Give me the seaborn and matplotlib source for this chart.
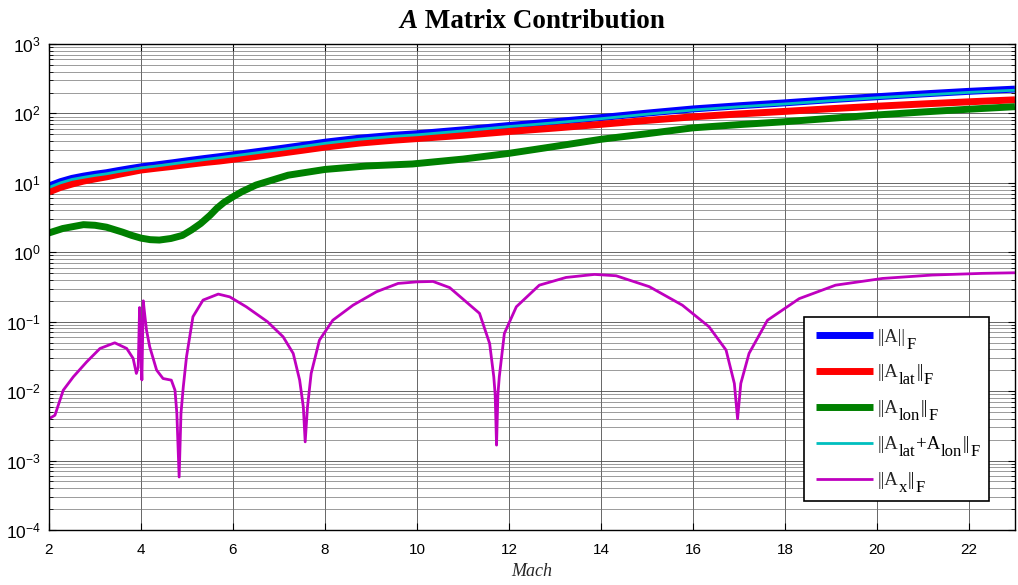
import numpy as np
import pandas as pd
import matplotlib
matplotlib.use("Agg")
import matplotlib.pyplot as plt
import seaborn as sns
from matplotlib.ticker import LogLocator, FixedLocator, NullFormatter
from matplotlib.font_manager import FontProperties

# ---------------- data ----------------
mach = [2.0, 2.25, 2.5, 2.75, 3.0, 3.25, 3.5, 3.75, 4.0, 4.35, 4.7, 5.05, 5.4, 5.7,
        6.0, 6.5, 7.0, 7.5, 8.0, 8.75, 9.5, 10.0, 11.0, 12.0, 13.0, 14.0, 15.0,
        16.0, 17.0, 18.0, 19.0, 20.0, 21.0, 22.0, 23.0]
a_total = [9.0, 10.4, 11.6, 12.5, 13.3, 14.0, 15.0, 16.0, 17.0, 18.2, 19.5, 21.0, 22.5, 23.8,
           25.3, 28.0, 31.0, 34.5, 38.5, 44.0, 48.5, 51.0, 58.0, 67.0, 76.0, 87.0, 101.0,
           116.0, 129.0, 142.0, 158.0, 174.0, 191.0, 208.0, 224.0]
a_lat = [7.4, 8.6, 9.6, 10.6, 11.4, 12.2, 13.2, 14.2, 15.3, 16.3, 17.3, 18.5, 19.7, 20.6,
         21.8, 24.0, 26.5, 29.4, 32.7, 37.4, 41.2, 43.4, 48.4, 54.9, 61.6, 69.6, 79.3,
         89.3, 98.3, 107.0, 117.0, 127.0, 137.0, 147.0, 157.0]
a_latlon = [8.6, 10.0, 11.2, 12.0, 12.8, 13.5, 14.5, 15.4, 16.4, 17.5, 18.8, 20.2, 21.7, 23.0,
            24.4, 27.0, 29.9, 33.3, 37.1, 42.4, 46.8, 49.2, 56.0, 64.7, 73.3, 84.0, 97.5,
            112.0, 124.5, 137.0, 152.5, 168.0, 184.0, 201.0, 216.0]

mach_lon = [2.0, 2.3, 2.75, 3.0, 3.25, 3.6, 3.8, 4.0, 4.2, 4.4, 4.65, 4.9, 5.1, 5.3, 5.5,
            5.65, 5.8, 6.0, 6.2, 6.5, 7.2, 8.0, 8.9, 9.9, 11.0, 12.0, 13.0, 14.0, 15.0,
            16.0, 17.0, 18.0, 19.0, 20.0, 21.0, 22.0, 23.0]
a_lon = [1.9, 2.2, 2.5, 2.45, 2.3, 1.95, 1.75, 1.6, 1.52, 1.5, 1.58, 1.75, 2.1, 2.6, 3.4,
         4.3, 5.2, 6.3, 7.5, 9.3, 12.9, 15.6, 17.5, 18.7, 22.0, 26.6, 33.5, 42.4, 51.0,
         62.0, 69.0, 76.0, 85.0, 95.0, 105.0, 115.0, 125.0]

mach_x = [2.0, 2.13, 2.31, 2.53, 2.82, 3.11, 3.43, 3.69, 3.83, 3.90, 3.94, 3.97, 4.00, 4.02,
          4.05, 4.08, 4.12, 4.19, 4.34, 4.48, 4.66, 4.74, 4.78, 4.83, 4.87, 4.92, 4.99,
          5.13, 5.35, 5.68, 5.93, 6.29, 6.75, 7.09, 7.31, 7.45, 7.53, 7.57, 7.62, 7.70,
          7.88, 8.17, 8.61, 9.12, 9.59, 10.0, 10.35, 10.71, 11.36, 11.58, 11.67, 11.70,
          11.73, 11.76, 11.79, 11.90, 12.16, 12.66, 13.24, 13.86, 14.33, 15.05, 15.77,
          16.35, 16.72, 16.90, 16.97, 17.04, 17.22, 17.62, 18.31, 19.1, 20.12, 21.2,
          22.29, 23.0]
a_x = [0.0040, 0.0045, 0.0103, 0.0161, 0.0264, 0.0412, 0.0497, 0.0412, 0.0296, 0.018,
       0.022, 0.16, 0.035, 0.0145, 0.20, 0.13, 0.076, 0.0436, 0.0201, 0.0152, 0.0144,
       0.0103, 0.0048, 0.00058, 0.0048, 0.0115, 0.0312, 0.118, 0.205, 0.25, 0.228, 0.164,
       0.10, 0.0607, 0.0349, 0.0144, 0.0059, 0.00186, 0.0059, 0.018, 0.0543, 0.105, 0.173,
       0.27, 0.356, 0.375, 0.38, 0.31, 0.132, 0.0486, 0.0161, 0.009, 0.00167, 0.009,
       0.0161, 0.0678, 0.164, 0.336, 0.434, 0.48, 0.459, 0.32, 0.173, 0.0845, 0.039,
       0.0129, 0.0040, 0.0129, 0.035, 0.105, 0.215, 0.336, 0.42, 0.47, 0.497, 0.507]

# legend labels as (text, is_subscript) pieces:  ||A||_F, ||A_lat||_F, ...
legend_parts = [
    [('||A||', False), ('F', True)],
    [('||A', False), ('lat', True), ('||', False), ('F', True)],
    [('||A', False), ('lon', True), ('||', False), ('F', True)],
    [('||A', False), ('lat', True), ('+A', False), ('lon', True), ('||', False), ('F', True)],
    [('||A', False), ('x', True), ('||', False), ('F', True)],
]
title_parts = [('A', 'italic'), (' Matrix Contribution', 'normal')]
colors = ['#0000ff', '#ff0000', '#008000', '#00bfbf', '#bf00bf']
x_ticks = [2, 4, 6, 8, 10, 12, 14, 16, 18, 20, 22]

# ---------------- style ----------------
sns.set_theme(style='white')
plt.rcParams['font.family'] = ['Liberation Sans', 'DejaVu Sans']
plt.rcParams['mathtext.default'] = 'regular'

fig = plt.figure(figsize=(10.18, 5.85), dpi=100)
ax = fig.add_axes([0.0481, 0.094, 0.9489, 0.8308])

series = [
    (mach, a_total, 5.0),
    (mach, a_lat, 5.0),
    (mach_lon, a_lon, 5.0),
    (mach, a_latlon, 2.0),
    (mach_x, a_x, 2.0),
]
for i, ((xs, ys, lw), col) in enumerate(zip(series, colors)):
    df = pd.DataFrame({'Mach': xs, 'val': ys})
    sns.lineplot(data=df, x='Mach', y='val', ax=ax, color=col, linewidth=lw,
                 label='s%d' % i, estimator=None, sort=False, solid_capstyle='butt')

ax.set_yscale('log')
ax.set_ylim(1e-4, 1e3)
ax.set_xlim(2, 23)
ax.xaxis.set_major_locator(FixedLocator(x_ticks))
ax.yaxis.set_major_locator(LogLocator(base=10, numticks=20))
ax.yaxis.set_minor_locator(LogLocator(base=10, subs=np.arange(2, 10), numticks=100))
ax.yaxis.set_minor_formatter(NullFormatter())

ax.grid(True, which='major', axis='both', color='0.3', linewidth=0.6)
ax.grid(True, which='minor', axis='y', color='0.45', linewidth=0.5)
ax.set_axisbelow(True)

ax.tick_params(which='both', direction='in', top=True, right=True, bottom=True, left=True,
               colors='black')
ax.tick_params(which='major', length=5, width=0.8)
ax.tick_params(which='minor', length=3, width=0.6)
ax.tick_params(axis='x', labelsize=11, pad=9)
ax.tick_params(axis='y', labelsize=12.5, pad=6)
for s in ax.spines.values():
    s.set_color('black')
    s.set_linewidth(1.0)

ax.set_ylabel(None)
ax.set_xlabel('Mach', family='Liberation Serif', style='italic', fontsize=13, labelpad=5)

# ---------------- legend ----------------
main_fp = FontProperties(family='Liberation Serif', size=13.5)
sub_fp = FontProperties(family='Liberation Serif', size=12)
handles, _ = ax.get_legend_handles_labels()
leg = ax.legend(handles=handles, labels=[p[0][0] for p in legend_parts],
                loc='lower left', bbox_to_anchor=(0.7816, 0.0603, 0.1915, 0.0),
                mode='expand', prop=main_fp,
                frameon=True, fancybox=False, edgecolor='black', framealpha=1,
                borderaxespad=0, handlelength=3.04, handletextpad=0.27,
                labelspacing=1.0, borderpad=0.62)
leg.get_frame().set_linewidth(1.2)
leg.set_zorder(5)

for txt, parts in zip(leg.get_texts(), legend_parts):
    prev = txt
    base_tr = txt.get_transform()
    for s, is_sub in parts[1:]:
        a = ax.annotate(s, xy=(1, 0), xycoords=(prev, base_tr),
                        xytext=(0.4, -5.0 if is_sub else 0.0), textcoords='offset points',
                        fontproperties=sub_fp if is_sub else main_fp,
                        va='baseline', ha='left', color='black',
                        zorder=6, annotation_clip=False)
        prev = a

# ---------------- title (italic "A" + bold rest, centred on the axes) ----------------
renderer = fig.canvas.get_renderer()
title_texts = []
for s, st in title_parts:
    t = fig.text(0, 0, s, family='Liberation Serif', weight='bold', style=st,
                 fontsize=19.5, color='black', va='baseline', ha='left')
    title_texts.append(t)
widths = [t.get_window_extent(renderer).width for t in title_texts]
ax_box = ax.get_position()
center_px = (ax_box.x0 + ax_box.x1) / 2 * fig.bbox.width
x_px = center_px - sum(widths) / 2
base_y = 1 - 28.5 / fig.bbox.height
for t, w in zip(title_texts, widths):
    t.set_position((x_px / fig.bbox.width, base_y))
    x_px += w

fig.savefig('out.png', dpi=100)
